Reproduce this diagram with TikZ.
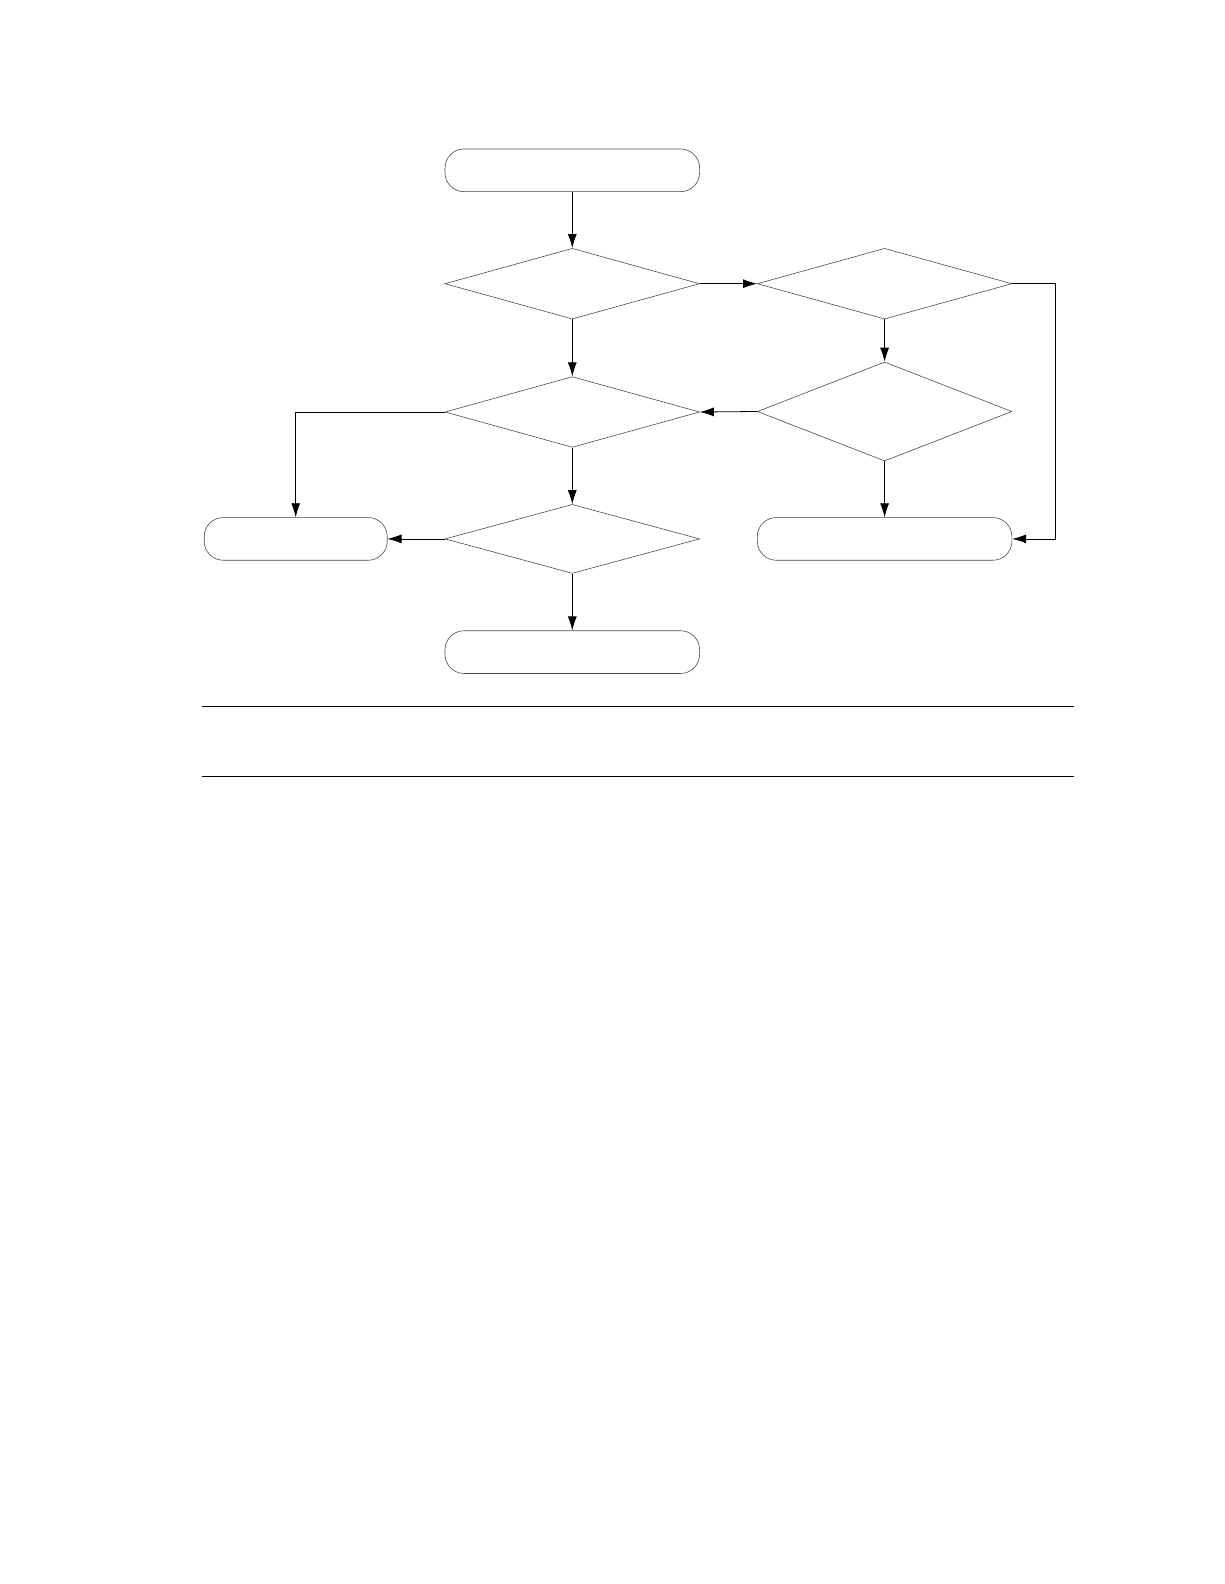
\documentclass[tikz,border=0pt]{standalone}
\usepackage{tikz}
\usetikzlibrary{shapes.geometric,arrows.meta}

\tikzset{
  term/.style={draw=black!70,line width=0.6pt,rectangle,rounded corners=19pt,
               inner sep=0pt,minimum height=42.7pt},
  cond/.style={draw=black!70,line width=0.6pt,diamond,inner sep=0pt,
               minimum width=254.6pt},
  flow/.style={line width=0.8pt,-{Latex[length=14pt,width=9pt]}}
}

\begin{document}
\begin{tikzpicture}[x=1pt,y=-1pt]
  \useasboundingbox (0,0) rectangle (1224,1584);
  \node[term,minimum width=254.6pt] (start) at (572.3,170.3) {};
  \node[cond,minimum height=70.7pt] (testa) at (572.3,283.7) {};
  \node[cond,minimum height=70.7pt] (testb) at (884.6,283.7) {};
  \node[cond,minimum height=70.7pt] (testc) at (572.3,412) {};
  \node[cond,minimum height=99pt] (testd) at (884.6,411.5) {};
  \node[cond,minimum height=69pt] (teste) at (572.3,538.9) {};
  \node[term,minimum width=183pt] (endl) at (295.7,538.9) {};
  \node[term,minimum width=254.6pt] (endr) at (884.6,538.9) {};
  \node[term,minimum width=254.6pt] (endb) at (572.3,652.1) {};
  % connectors
  \draw[flow] (start) -- (testa);
  \draw[flow] (testa.east) -- (testb.west);
  \draw[flow] (testa.south) -- (testc.north);
  \draw[flow] (testb.south) -- (testd.north);
  \draw[flow] (testd.west) -- (testc.east);
  \draw[flow] (testb.east) -- (1055.5,283.7) |- (endr.east);
  \draw[flow] (testc.west) -| (endl.north);
  \draw[flow] (testc.south) -- (teste.north);
  \draw[flow] (teste.west) -- (endl.east);
  \draw[flow] (testd.south) -- (endr.north);
  \draw[flow] (teste.south) -- (endb.north);
  % rules
  \draw[line width=1.2pt] (202,706.3) -- (1074,706.3);
  \draw[line width=1.2pt] (202,776.3) -- (1074,776.3);
\end{tikzpicture}
\end{document}
